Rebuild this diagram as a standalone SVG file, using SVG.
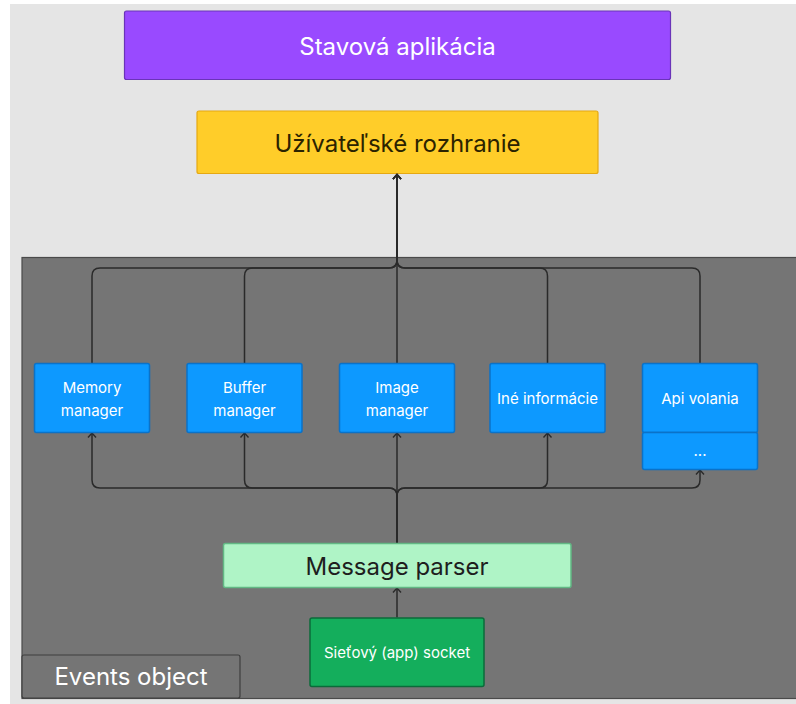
<svg xmlns="http://www.w3.org/2000/svg" width="796" height="704" viewBox="0 0 796 704">
  <defs>
    <style>
      .lbl { font-family: Inter, "Noto Sans", "Liberation Sans", sans-serif; text-anchor: middle; }
      .big { font-size: 24px; }
      .small { font-size: 15px; fill: #ffffff; }
      .blue { fill: #0d99ff; stroke: #0b72c8; stroke-width: 1.5; }
      .edge { fill: none; stroke: #2a2a2a; stroke-width: 1.5; }
    </style>
    <marker id="arrow" markerUnits="userSpaceOnUse" markerWidth="12" markerHeight="12" viewBox="-6 -6 12 12" refX="0" refY="0" orient="auto">
      <path d="M-4.5,-4 L0,0 L-4.5,4" fill="none" stroke="#2a2a2a" stroke-width="1.4"/>
    </marker>
  </defs>

  <!-- page background -->
  <rect x="0" y="0" width="796" height="704" fill="#ffffff"/>
  <rect x="10" y="4" width="786" height="700" fill="#e5e5e5"/>

  <!-- Events object container -->
  <g id="events-object">
    <rect x="22" y="257.5" width="790" height="441" fill="#757575" stroke="#4a4a4a" stroke-width="1.2"/>
    <rect x="22" y="655" width="218" height="43" rx="2" fill="#757575" stroke="#3e3e3e" stroke-width="1.2"/>
    <text class="lbl big" x="131" y="685" fill="#ffffff">Events object</text>
  </g>

  <g id="stavova-aplikacia">
    <rect x="124.5" y="11" width="546" height="68.5" rx="2" fill="#994aff" stroke="#6a34b8" stroke-width="1.2"/>
    <text class="lbl big" x="397.5" y="54.5" fill="#ffffff">Stavová aplikácia</text>
  </g>

  <g id="uzivatelske-rozhranie">
    <rect x="197" y="111" width="401" height="62.5" rx="2" fill="#ffcd29" stroke="#e5a812" stroke-width="1.2"/>
    <text class="lbl big" x="397.5" y="151.5" fill="#2b2300">Užívateľské rozhranie</text>
  </g>

  <!-- connectors -->
  <g id="connectors">
    <path class="edge" marker-end="url(#arrow)" d="M92,363.5 V276 Q92,268 100,268 H389 Q397,268 397,260 V174.5"/>
    <path class="edge" marker-end="url(#arrow)" d="M244.5,363.5 V276 Q244.5,268 252.5,268 H389 Q397,268 397,260 V174.5"/>
    <path class="edge" marker-end="url(#arrow)" d="M397,363.5 V174.5"/>
    <path class="edge" marker-end="url(#arrow)" d="M547.5,363.5 V276 Q547.5,268 539.5,268 H405 Q397,268 397,260 V174.5"/>
    <path class="edge" marker-end="url(#arrow)" d="M700,363.5 V276 Q700,268 692,268 H405 Q397,268 397,260 V174.5"/>

    <path class="edge" marker-end="url(#arrow)" d="M397,543 V496 Q397,488 389,488 H100 Q92,488 92,480 V433"/>
    <path class="edge" marker-end="url(#arrow)" d="M397,543 V496 Q397,488 389,488 H252.5 Q244.5,488 244.5,480 V433"/>
    <path class="edge" marker-end="url(#arrow)" d="M397,543 V433"/>
    <path class="edge" marker-end="url(#arrow)" d="M397,543 V496 Q397,488 405,488 H539.5 Q547.5,488 547.5,480 V433"/>
    <path class="edge" marker-end="url(#arrow)" d="M397,543 V496 Q397,488 405,488 H692 Q700,488 700,480 V470"/>

    <path class="edge" marker-end="url(#arrow)" d="M397,617.5 V588"/>
  </g>

  <g id="memory-manager">
    <rect class="blue" x="34.5" y="363.5" width="115" height="69" rx="2"/>
    <text class="lbl small" x="92" y="392.5">Memory</text>
    <text class="lbl small" x="92" y="415.5">manager</text>
  </g>

  <g id="buffer-manager">
    <rect class="blue" x="187" y="363.5" width="115" height="69" rx="2"/>
    <text class="lbl small" x="244.5" y="392.5">Buffer</text>
    <text class="lbl small" x="244.5" y="415.5">manager</text>
  </g>

  <g id="image-manager">
    <rect class="blue" x="339.5" y="363.5" width="115" height="69" rx="2"/>
    <text class="lbl small" x="397" y="392.5">Image</text>
    <text class="lbl small" x="397" y="415.5">manager</text>
  </g>

  <g id="ine-informacie">
    <rect class="blue" x="490" y="363.5" width="115" height="69" rx="2"/>
    <text class="lbl small" x="547.5" y="404">Iné informácie</text>
  </g>

  <g id="api-volania">
    <rect class="blue" x="642.5" y="363.5" width="115" height="69" rx="2"/>
    <text class="lbl small" x="700" y="404">Api volania</text>
    <rect class="blue" x="642.5" y="432.5" width="115" height="37" rx="2"/>
    <text class="lbl small" x="700" y="456">...</text>
  </g>

  <g id="message-parser">
    <rect x="223.5" y="543.5" width="347.5" height="44" rx="2" fill="#aff4c6" stroke="#62b884" stroke-width="1.5"/>
    <text class="lbl big" x="397" y="575" fill="#1e1e1e">Message parser</text>
  </g>

  <g id="sietovy-socket">
    <rect x="310" y="618" width="174" height="68.5" rx="2" fill="#14ae5c" stroke="#0b6b3a" stroke-width="1.5"/>
    <text class="lbl small" x="397" y="658">Sieťový (app) socket</text>
  </g>
</svg>
